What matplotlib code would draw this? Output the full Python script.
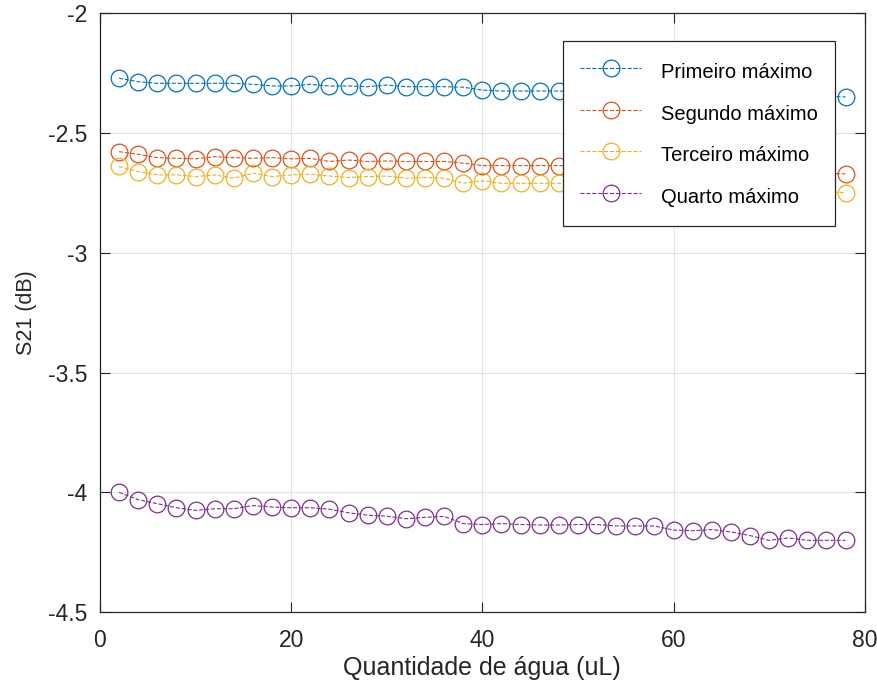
import numpy as np
import matplotlib.pyplot as plt

plt.rcParams['font.family'] = ['Liberation Sans', 'DejaVu Sans']

agua = list(range(2, 80, 2))

primeiro = [-2.272, -2.286, -2.293, -2.293, -2.293, -2.293, -2.293, -2.297, -2.304, -2.304,
            -2.297, -2.304, -2.304, -2.307, -2.300, -2.307, -2.307, -2.307, -2.309, -2.321,
            -2.325, -2.325, -2.325, -2.325, -2.328, -2.330, -2.332, -2.333, -2.335, -2.336,
            -2.338, -2.340, -2.340, -2.342, -2.343, -2.344, -2.345, -2.346, -2.350]
segundo = [-2.578, -2.589, -2.603, -2.606, -2.608, -2.599, -2.603, -2.606, -2.603, -2.608,
           -2.606, -2.619, -2.613, -2.619, -2.617, -2.619, -2.619, -2.619, -2.626, -2.636,
           -2.636, -2.636, -2.636, -2.636, -2.640, -2.642, -2.645, -2.647, -2.650, -2.652,
           -2.655, -2.657, -2.658, -2.660, -2.662, -2.664, -2.666, -2.668, -2.671]
terceiro = [-2.640, -2.661, -2.675, -2.675, -2.682, -2.675, -2.689, -2.668, -2.682, -2.675,
            -2.672, -2.680, -2.686, -2.682, -2.680, -2.689, -2.686, -2.689, -2.710, -2.700,
            -2.710, -2.710, -2.710, -2.710, -2.712, -2.715, -2.718, -2.720, -2.722, -2.725,
            -2.727, -2.730, -2.732, -2.735, -2.737, -2.740, -2.742, -2.745, -2.750]
quarto = [-4.000, -4.030, -4.047, -4.064, -4.075, -4.068, -4.068, -4.055, -4.061, -4.064,
          -4.064, -4.070, -4.085, -4.095, -4.099, -4.110, -4.104, -4.100, -4.130, -4.134,
          -4.130, -4.134, -4.136, -4.136, -4.134, -4.134, -4.140, -4.140, -4.140, -4.157,
          -4.160, -4.155, -4.165, -4.180, -4.200, -4.190, -4.200, -4.200, -4.200]

series = [
    (primeiro, 'Primeiro máximo', '#0072BD'),
    (segundo, 'Segundo máximo', '#D95319'),
    (terceiro, 'Terceiro máximo', '#EDB120'),
    (quarto, 'Quarto máximo', '#7E2F8E'),
]

fig = plt.figure(figsize=(8.77, 6.91), dpi=100)
ax = fig.add_axes([0.114, 0.114, 0.872, 0.867])

for y, lab, c in series:
    ax.plot(agua, y, '--o', color=c, lw=0.8, markersize=12, markerfacecolor='none',
            markeredgewidth=0.9, label=lab)

ax.set_xlim(0, 80)
ax.set_ylim(-4.5, -2)
ax.set_xticks([0, 20, 40, 60, 80])
ax.set_yticks([-4.5, -4, -3.5, -3, -2.5, -2])
ax.set_yticklabels(['-4.5', '-4', '-3.5', '-3', '-2.5', '-2'])
ax.set_xticklabels(['0', '20', '40', '60', '80'])
ax.tick_params(direction='in', length=7, width=0.8, labelsize=16.5, colors='#262626',
               top=True, right=True)
ax.tick_params(axis='y', pad=9)
ax.tick_params(axis='x', pad=12)
ax.grid(True, color='#e3e3e3', lw=0.8)
ax.set_axisbelow(True)
for s in ax.spines.values():
    s.set_color('#262626')
    s.set_linewidth(0.9)

ax.set_xlabel('Quantidade de água (uL)', fontsize=18, color='#262626', labelpad=3)
ax.set_ylabel('S21 (dB)', fontsize=15.5, color='#262626', labelpad=8)

leg = ax.legend(loc='upper right', bbox_to_anchor=(0.961, 0.953), borderaxespad=0,
                fontsize=14.5, frameon=True, fancybox=False, framealpha=1,
                edgecolor='#262626', handlelength=3.0, handleheight=1.6,
                borderpad=0.85, labelspacing=0.78, handletextpad=1.0)
leg.get_frame().set_linewidth(0.9)

plt.savefig('out.png', dpi=100)
